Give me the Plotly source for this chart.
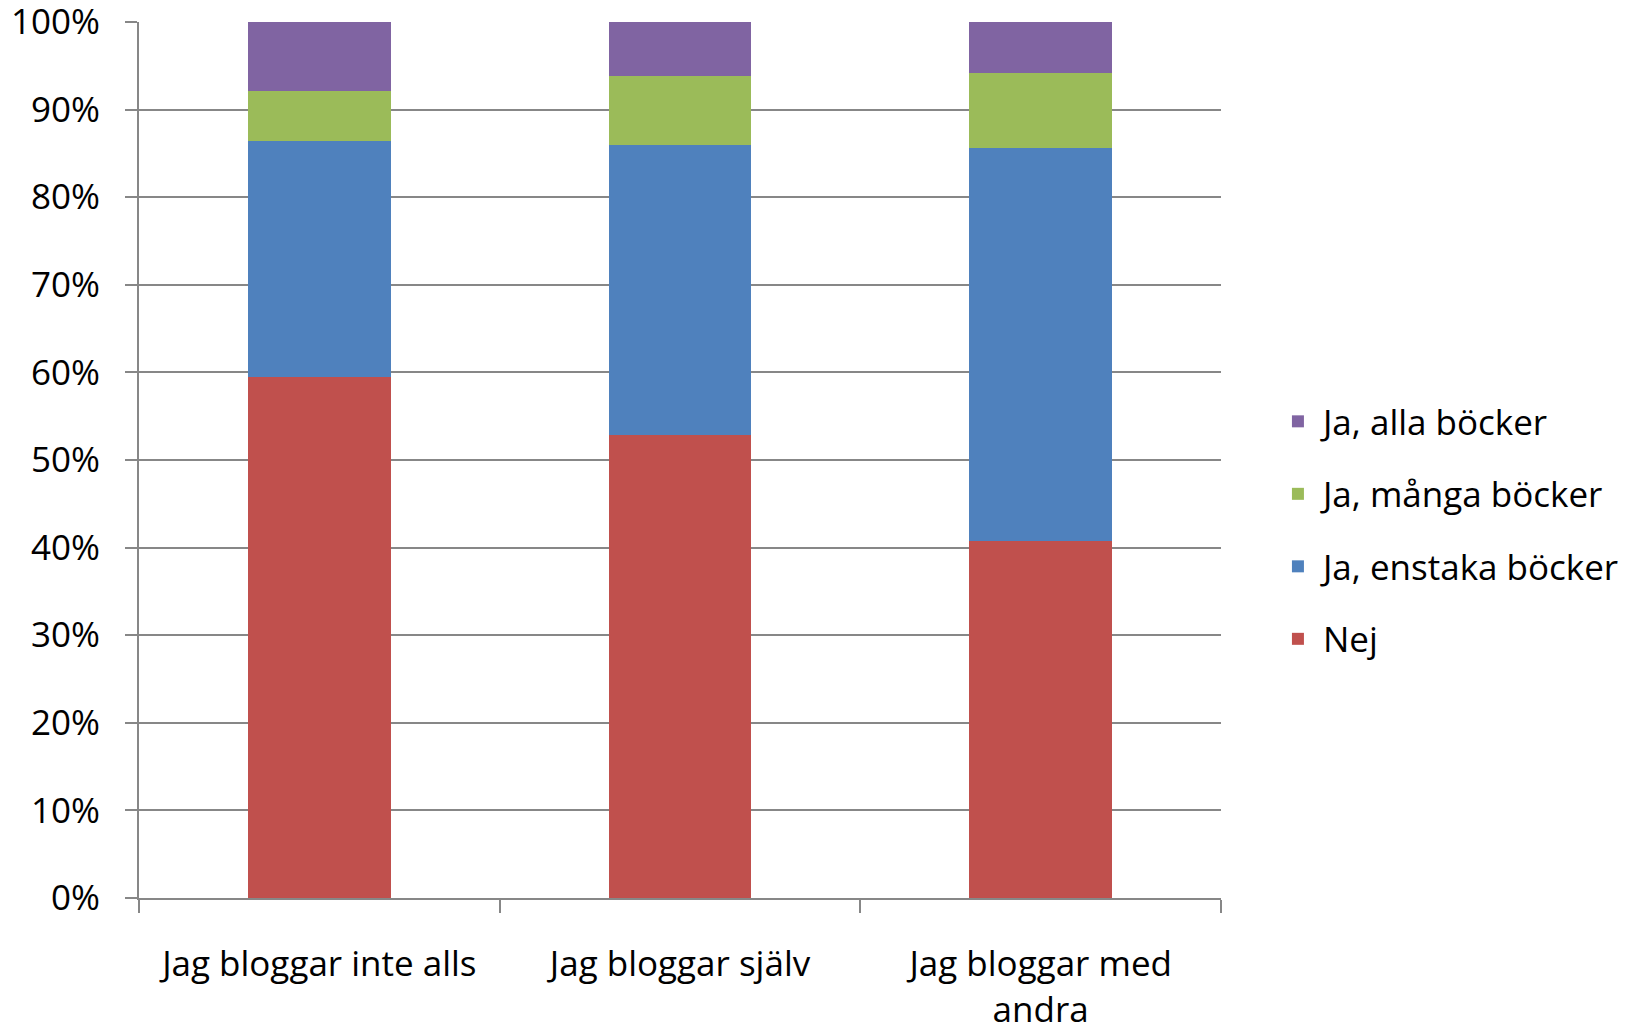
import plotly.graph_objects as go

categories = ["Jag bloggar inte alls", "Jag bloggar själv", "Jag bloggar med<br>andra"]
series_names = ["Nej", "Ja, enstaka böcker", "Ja, många böcker", "Ja, alla böcker"]
nej = [59.5, 52.8, 40.8]
enstaka = [26.9, 33.2, 44.8]
manga = [5.7, 7.8, 8.55]
alla = [7.9, 6.2, 5.85]
colors = ["#C0504D", "#4F81BD", "#9BBB59", "#8064A2"]
legend_ranks = [4, 3, 2, 1]
y_ticks = [0, 10, 20, 30, 40, 50, 60, 70, 80, 90, 100]
y_tick_labels = [f"{v}%" for v in y_ticks]

FONT = "'Open Sans', Lato, sans-serif"
FS = 35

fig = go.Figure()
for name, vals, col, rk in zip(series_names, [nej, enstaka, manga, alla], colors, legend_ranks):
    fig.add_trace(go.Bar(
        x=categories, y=vals, name=name, legendgroup=name, legendrank=rk,
        marker=dict(color=col, line=dict(width=0)),
    ))

fig.update_layout(
    barmode="stack",
    bargap=0.605,
    width=1634, height=1021,
    paper_bgcolor="white", plot_bgcolor="white",
    margin=dict(l=131, r=421, t=14, b=131, autoexpand=False),
    font=dict(family=FONT, size=FS, color="black"),
    legend=dict(
        x=1.048, y=0.42, xanchor="left", yanchor="middle",
        traceorder="grouped", tracegroupgap=24,
        font=dict(family=FONT, size=FS, color="black"),
        itemwidth=40,
    ),
    showlegend=True,
)
fig.update_yaxes(
    range=[0, 100], tickvals=y_ticks, ticktext=y_tick_labels,
    showgrid=True, gridcolor="#878787", gridwidth=2,
    showline=True, linecolor="#878787", linewidth=2,
    ticks="outside", ticklen=12, tickwidth=2, tickcolor="#878787",
    ticklabelstandoff=18, ticklabeloverflow="allow", zeroline=False, automargin=False,
    tickfont=dict(family=FONT, size=FS, color="black"),
)
fig.update_xaxes(
    type="category", range=[-0.5, 2.5],
    showline=True, linecolor="#878787", linewidth=2,
    ticks="outside", tickson="boundaries", ticklen=13, tickwidth=2, tickcolor="#878787",
    ticklabelstandoff=34, ticklabeloverflow="allow", showgrid=False, automargin=False,
    tickfont=dict(family=FONT, size=FS, color="black"),
)

fig.write_html("out.html")
